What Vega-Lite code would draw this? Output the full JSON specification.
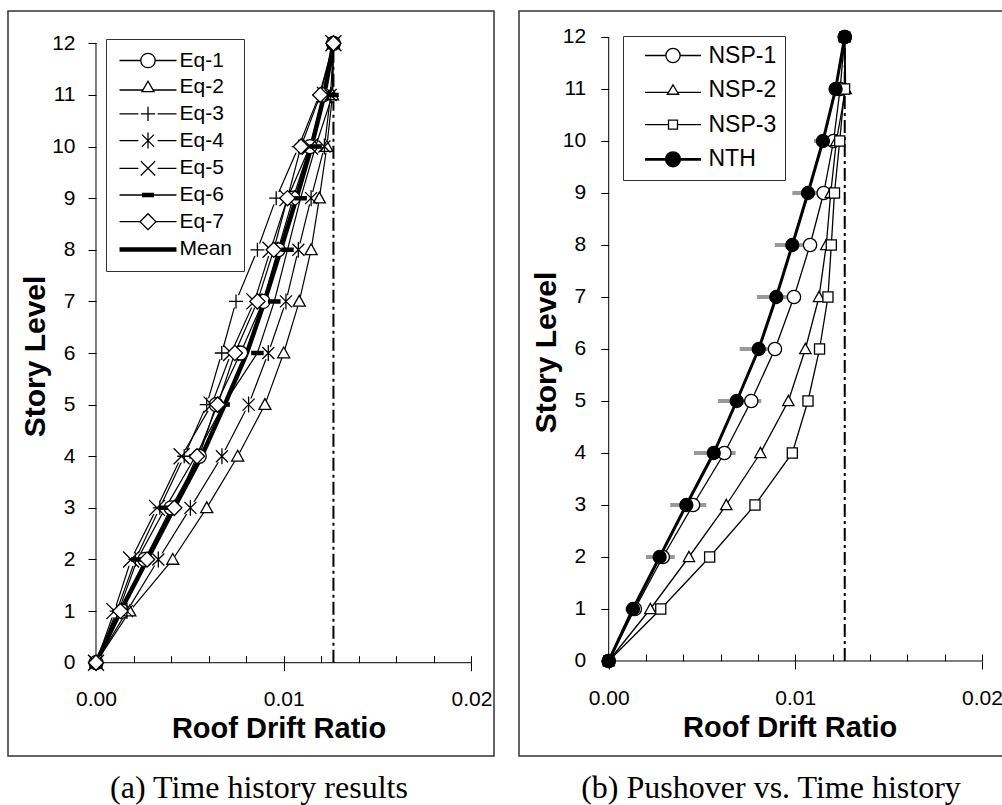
{
  "$schema": "https://vega.github.io/schema/vega-lite/v6.json",
  "background": "white",
  "padding": {"left": 7, "top": 10, "right": 0, "bottom": 0},
  "spacing": 23,
  "config": {
    "view": {"stroke": "#333", "strokeWidth": 1.5},
    "axis": {"domain": false, "grid": false, "labelFont": "Liberation Sans", "labelFontSize": 21, "labelColor": "black", "tickColor": "black", "tickWidth": 1, "titleFont": "Liberation Sans", "titleFontWeight": "bold", "titleColor": "black"},
    "legend": {"labelFont": "Liberation Sans", "labelColor": "black"}
  },
  "resolve": {"scale": {"shape": "independent", "fill": "independent"}},
  "datasets": {
    "frame": [{"x0": 0, "x1": 0.02, "y0": 0, "y1": 12}],
    "roof": [{"drift": 0.01265, "lo": 0, "hi": 12}],
    "eq": [
      {"series": "Eq-1", "level": 0, "drift": 0}, {"series": "Eq-1", "level": 1, "drift": 0.0014}, {"series": "Eq-1", "level": 2, "drift": 0.0026}, {"series": "Eq-1", "level": 3, "drift": 0.004}, {"series": "Eq-1", "level": 4, "drift": 0.0055}, {"series": "Eq-1", "level": 5, "drift": 0.0064}, {"series": "Eq-1", "level": 6, "drift": 0.0077}, {"series": "Eq-1", "level": 7, "drift": 0.0089}, {"series": "Eq-1", "level": 8, "drift": 0.0097}, {"series": "Eq-1", "level": 9, "drift": 0.0105}, {"series": "Eq-1", "level": 10, "drift": 0.0114}, {"series": "Eq-1", "level": 11, "drift": 0.0121}, {"series": "Eq-1", "level": 12, "drift": 0.01265},
      {"series": "Eq-2", "level": 0, "drift": 0}, {"series": "Eq-2", "level": 1, "drift": 0.0018}, {"series": "Eq-2", "level": 2, "drift": 0.00409}, {"series": "Eq-2", "level": 3, "drift": 0.0059}, {"series": "Eq-2", "level": 4, "drift": 0.00755}, {"series": "Eq-2", "level": 5, "drift": 0.009}, {"series": "Eq-2", "level": 6, "drift": 0.01}, {"series": "Eq-2", "level": 7, "drift": 0.01083}, {"series": "Eq-2", "level": 8, "drift": 0.01146}, {"series": "Eq-2", "level": 9, "drift": 0.0119}, {"series": "Eq-2", "level": 10, "drift": 0.0123}, {"series": "Eq-2", "level": 11, "drift": 0.0126}, {"series": "Eq-2", "level": 12, "drift": 0.01265},
      {"series": "Eq-3", "level": 0, "drift": 0}, {"series": "Eq-3", "level": 1, "drift": 0.0011}, {"series": "Eq-3", "level": 2, "drift": 0.0021}, {"series": "Eq-3", "level": 3, "drift": 0.0034}, {"series": "Eq-3", "level": 4, "drift": 0.0047}, {"series": "Eq-3", "level": 5, "drift": 0.0059}, {"series": "Eq-3", "level": 6, "drift": 0.0067}, {"series": "Eq-3", "level": 7, "drift": 0.00746}, {"series": "Eq-3", "level": 8, "drift": 0.0086}, {"series": "Eq-3", "level": 9, "drift": 0.0096}, {"series": "Eq-3", "level": 10, "drift": 0.0108}, {"series": "Eq-3", "level": 11, "drift": 0.0119}, {"series": "Eq-3", "level": 12, "drift": 0.01265},
      {"series": "Eq-4", "level": 0, "drift": 0}, {"series": "Eq-4", "level": 1, "drift": 0.00165}, {"series": "Eq-4", "level": 2, "drift": 0.00332}, {"series": "Eq-4", "level": 3, "drift": 0.00503}, {"series": "Eq-4", "level": 4, "drift": 0.00671}, {"series": "Eq-4", "level": 5, "drift": 0.00813}, {"series": "Eq-4", "level": 6, "drift": 0.00918}, {"series": "Eq-4", "level": 7, "drift": 0.01012}, {"series": "Eq-4", "level": 8, "drift": 0.01078}, {"series": "Eq-4", "level": 9, "drift": 0.01146}, {"series": "Eq-4", "level": 10, "drift": 0.01217}, {"series": "Eq-4", "level": 11, "drift": 0.0125}, {"series": "Eq-4", "level": 12, "drift": 0.01265},
      {"series": "Eq-5", "level": 0, "drift": 0}, {"series": "Eq-5", "level": 1, "drift": 0.00098}, {"series": "Eq-5", "level": 2, "drift": 0.00187}, {"series": "Eq-5", "level": 3, "drift": 0.00325}, {"series": "Eq-5", "level": 4, "drift": 0.00456}, {"series": "Eq-5", "level": 5, "drift": 0.00616}, {"series": "Eq-5", "level": 6, "drift": 0.0072}, {"series": "Eq-5", "level": 7, "drift": 0.00844}, {"series": "Eq-5", "level": 8, "drift": 0.0093}, {"series": "Eq-5", "level": 9, "drift": 0.0102}, {"series": "Eq-5", "level": 10, "drift": 0.0114}, {"series": "Eq-5", "level": 11, "drift": 0.0122}, {"series": "Eq-5", "level": 12, "drift": 0.01265},
      {"series": "Eq-6", "level": 0, "drift": 0}, {"series": "Eq-6", "level": 1, "drift": 0.0012}, {"series": "Eq-6", "level": 2, "drift": 0.0022}, {"series": "Eq-6", "level": 3, "drift": 0.0037}, {"series": "Eq-6", "level": 4, "drift": 0.0053}, {"series": "Eq-6", "level": 5, "drift": 0.0068}, {"series": "Eq-6", "level": 6, "drift": 0.0086}, {"series": "Eq-6", "level": 7, "drift": 0.0095}, {"series": "Eq-6", "level": 8, "drift": 0.0102}, {"series": "Eq-6", "level": 9, "drift": 0.0109}, {"series": "Eq-6", "level": 10, "drift": 0.0117}, {"series": "Eq-6", "level": 11, "drift": 0.0126}, {"series": "Eq-6", "level": 12, "drift": 0.01265},
      {"series": "Eq-7", "level": 0, "drift": 0}, {"series": "Eq-7", "level": 1, "drift": 0.0013}, {"series": "Eq-7", "level": 2, "drift": 0.00272}, {"series": "Eq-7", "level": 3, "drift": 0.00417}, {"series": "Eq-7", "level": 4, "drift": 0.00538}, {"series": "Eq-7", "level": 5, "drift": 0.00648}, {"series": "Eq-7", "level": 6, "drift": 0.0074}, {"series": "Eq-7", "level": 7, "drift": 0.0086}, {"series": "Eq-7", "level": 8, "drift": 0.00947}, {"series": "Eq-7", "level": 9, "drift": 0.0102}, {"series": "Eq-7", "level": 10, "drift": 0.01092}, {"series": "Eq-7", "level": 11, "drift": 0.01195}, {"series": "Eq-7", "level": 12, "drift": 0.01265},
      {"series": "Mean", "level": 0, "drift": 0}, {"series": "Mean", "level": 1, "drift": 0.0013}, {"series": "Mean", "level": 2, "drift": 0.00273}, {"series": "Mean", "level": 3, "drift": 0.00416}, {"series": "Mean", "level": 4, "drift": 0.00563}, {"series": "Mean", "level": 5, "drift": 0.00686}, {"series": "Mean", "level": 6, "drift": 0.00804}, {"series": "Mean", "level": 7, "drift": 0.00898}, {"series": "Mean", "level": 8, "drift": 0.00984}, {"series": "Mean", "level": 9, "drift": 0.01068}, {"series": "Mean", "level": 10, "drift": 0.01148}, {"series": "Mean", "level": 11, "drift": 0.01216}, {"series": "Mean", "level": 12, "drift": 0.01265}
    ],
    "nsp": [
      {"series": "NSP-1", "level": 0, "drift": 0}, {"series": "NSP-1", "level": 1, "drift": 0.0014}, {"series": "NSP-1", "level": 2, "drift": 0.0029}, {"series": "NSP-1", "level": 3, "drift": 0.00452}, {"series": "NSP-1", "level": 4, "drift": 0.0062}, {"series": "NSP-1", "level": 5, "drift": 0.00764}, {"series": "NSP-1", "level": 6, "drift": 0.00891}, {"series": "NSP-1", "level": 7, "drift": 0.00993}, {"series": "NSP-1", "level": 8, "drift": 0.01079}, {"series": "NSP-1", "level": 9, "drift": 0.01152}, {"series": "NSP-1", "level": 10, "drift": 0.01205}, {"series": "NSP-1", "level": 11, "drift": 0.0124}, {"series": "NSP-1", "level": 12, "drift": 0.01265},
      {"series": "NSP-2", "level": 0, "drift": 0}, {"series": "NSP-2", "level": 1, "drift": 0.00223}, {"series": "NSP-2", "level": 2, "drift": 0.0043}, {"series": "NSP-2", "level": 3, "drift": 0.0063}, {"series": "NSP-2", "level": 4, "drift": 0.00813}, {"series": "NSP-2", "level": 5, "drift": 0.00963}, {"series": "NSP-2", "level": 6, "drift": 0.01054}, {"series": "NSP-2", "level": 7, "drift": 0.01127}, {"series": "NSP-2", "level": 8, "drift": 0.01166}, {"series": "NSP-2", "level": 9, "drift": 0.0119}, {"series": "NSP-2", "level": 10, "drift": 0.0122}, {"series": "NSP-2", "level": 11, "drift": 0.0127}, {"series": "NSP-2", "level": 12, "drift": 0.01265},
      {"series": "NSP-3", "level": 0, "drift": 0}, {"series": "NSP-3", "level": 1, "drift": 0.00279}, {"series": "NSP-3", "level": 2, "drift": 0.00541}, {"series": "NSP-3", "level": 3, "drift": 0.00784}, {"series": "NSP-3", "level": 4, "drift": 0.00984}, {"series": "NSP-3", "level": 5, "drift": 0.01068}, {"series": "NSP-3", "level": 6, "drift": 0.0113}, {"series": "NSP-3", "level": 7, "drift": 0.01175}, {"series": "NSP-3", "level": 8, "drift": 0.01193}, {"series": "NSP-3", "level": 9, "drift": 0.0121}, {"series": "NSP-3", "level": 10, "drift": 0.01238}, {"series": "NSP-3", "level": 11, "drift": 0.01264}, {"series": "NSP-3", "level": 12, "drift": 0.01265},
      {"series": "NTH", "level": 0, "drift": 0}, {"series": "NTH", "level": 1, "drift": 0.0013}, {"series": "NTH", "level": 2, "drift": 0.00273}, {"series": "NTH", "level": 3, "drift": 0.00416}, {"series": "NTH", "level": 4, "drift": 0.00563}, {"series": "NTH", "level": 5, "drift": 0.00686}, {"series": "NTH", "level": 6, "drift": 0.00804}, {"series": "NTH", "level": 7, "drift": 0.00898}, {"series": "NTH", "level": 8, "drift": 0.00984}, {"series": "NTH", "level": 9, "drift": 0.01068}, {"series": "NTH", "level": 10, "drift": 0.01148}, {"series": "NTH", "level": 11, "drift": 0.01216}, {"series": "NTH", "level": 12, "drift": 0.01265}
    ],
    "band": [
      {"level": 1, "lo": 0.0009, "hi": 0.0017}, {"level": 2, "lo": 0.002, "hi": 0.00354}, {"level": 3, "lo": 0.0033, "hi": 0.00523}, {"level": 4, "lo": 0.00457, "hi": 0.0068}, {"level": 5, "lo": 0.00586, "hi": 0.00818}, {"level": 6, "lo": 0.00702, "hi": 0.00898}, {"level": 7, "lo": 0.00795, "hi": 0.00988}, {"level": 8, "lo": 0.0089, "hi": 0.0108}, {"level": 9, "lo": 0.00984, "hi": 0.01166}, {"level": 10, "lo": 0.011, "hi": 0.0122}, {"level": 11, "lo": 0.0118, "hi": 0.0125}
    ]
  },
  "hconcat": [
    {
      "width": 486,
      "height": 745,
      "title": {"text": "(a) Time history results", "orient": "bottom", "anchor": "middle", "font": "Liberation Serif", "fontSize": 32, "fontWeight": "normal", "color": "black", "offset": 17, "dx": 8},
      "resolve": {"axis": {"x": "independent"}, "scale": {"shape": "independent", "fill": "independent"}},
      "layer": [
        {
          "data": {"name": "frame"},
          "mark": {"type": "rule", "color": "black", "strokeWidth": 1},
          "encoding": {
            "x": {"field": "x0", "type": "quantitative", "scale": {"domain": [-0.004688, 0.021204], "nice": false, "zero": false},
                  "axis": {"orient": "bottom", "values": [0, 0.01, 0.02], "format": ".2f", "tickSize": 8, "labelPadding": 18, "offset": -93.3, "title": "Roof Drift Ratio", "titleFontSize": 29, "titlePadding": 5, "titleX": 270.5, "labelFlush": false}},
            "x2": {"field": "x1"},
            "y": {"field": "y0", "type": "quantitative", "scale": {"domain": [-1.8075, 12.626], "nice": false, "zero": false},
                  "axis": {"values": [0, 1, 2, 3, 4, 5, 6, 7, 8, 9, 10, 11, 12], "format": "d", "tickSize": 8, "labelPadding": 13, "offset": -88, "title": "Story Level", "titleFontSize": 30, "titlePadding": 1, "titleY": 345}}
          }
        },
        {
          "data": {"name": "frame"},
          "mark": {"type": "rule", "color": "black", "strokeWidth": 1},
          "encoding": {
            "x": {"field": "x0", "type": "quantitative", "axis": {"orient": "bottom", "values": [0.002, 0.004, 0.006, 0.008, 0.01, 0.012, 0.014, 0.016, 0.018, 0.02], "tickSize": -7, "labels": false, "title": null, "offset": -93.3}},
            "y": {"field": "y0", "type": "quantitative"},
            "y2": {"field": "y1"}
          }
        },
        {
          "data": {"name": "roof"},
          "mark": {"type": "rule", "color": "black", "strokeWidth": 2, "strokeDash": [13, 4, 3, 4]},
          "encoding": {
            "x": {"field": "drift", "type": "quantitative", "axis": null},
            "y": {"field": "lo", "type": "quantitative"},
            "y2": {"field": "hi"}
          }
        },
        {
          "data": {"name": "eq"},
          "transform": [{"filter": "datum.series !== 'Mean'"}],
          "mark": {"type": "line", "color": "black", "strokeWidth": 1.2},
          "encoding": {
            "x": {"field": "drift", "type": "quantitative", "axis": null},
            "y": {"field": "level", "type": "quantitative"},
            "detail": {"field": "series", "type": "nominal"},
            "order": {"field": "level", "type": "quantitative"}
          }
        },
        {
          "data": {"name": "eq"},
          "transform": [{"filter": "datum.series === 'Mean'"}],
          "mark": {"type": "line", "color": "black", "strokeWidth": 4.5},
          "encoding": {
            "x": {"field": "drift", "type": "quantitative", "axis": null},
            "y": {"field": "level", "type": "quantitative"},
            "order": {"field": "level", "type": "quantitative"}
          }
        },
        {
          "data": {"name": "eq"},
          "transform": [{"filter": {"field": "series", "oneOf": ["Eq-3", "Eq-4", "Eq-5"]}}],
          "mark": {"type": "point", "shape": "square", "filled": true, "fill": "white", "strokeWidth": 0, "opacity": 1, "size": 150},
          "encoding": {
            "x": {"field": "drift", "type": "quantitative", "axis": null},
            "y": {"field": "level", "type": "quantitative"}
          }
        },
        {
          "data": {"name": "eq"},
          "transform": [{"filter": "datum.series !== 'Mean'"}],
          "mark": {"type": "point", "filled": true, "stroke": "black", "strokeWidth": 1.3, "opacity": 1, "size": 256},
          "encoding": {
            "x": {"field": "drift", "type": "quantitative", "axis": null},
            "y": {"field": "level", "type": "quantitative"},
            "fill": {"field": "series", "type": "nominal", "legend": null,
                     "scale": {"domain": ["Eq-1", "Eq-2", "Eq-3", "Eq-4", "Eq-5", "Eq-6", "Eq-7"], "range": ["white", "white", "white", "white", "white", "black", "white"]}},
            "shape": {"field": "series", "type": "nominal", "legend": null,
                      "scale": {"domain": ["Eq-1", "Eq-2", "Eq-3", "Eq-4", "Eq-5", "Eq-6", "Eq-7"],
                                "range": ["M-0.875,0A0.875,0.875,0,1,0,0.875,0A0.875,0.875,0,1,0,-0.875,0Z", "M0,-0.75L0.75,0.6L-0.75,0.6Z", "M-0.875,0H0.875M0,-0.875V0.875", "M0,-1V1M-0.75,-0.75L0.75,0.75M-0.75,0.75L0.75,-0.75", "M-1,-1L1,1M-1,1L1,-1", "M-0.7,-0.2H0.7V0.2H-0.7Z", "M-0.95,0L0,-0.95L0.95,0L0,0.95Z"]}}
          }
        },
        {
          "data": {"name": "eq"},
          "transform": [{"filter": "datum.level < 0"}],
          "mark": {"type": "point", "filled": false, "color": "black", "strokeWidth": 1.3, "opacity": 1, "size": 256},
          "encoding": {
            "x": {"field": "drift", "type": "quantitative", "axis": null},
            "y": {"field": "level", "type": "quantitative"},
            "shape": {"field": "series", "type": "nominal",
                      "scale": {"domain": ["Eq-1", "Eq-2", "Eq-3", "Eq-4", "Eq-5", "Eq-6", "Eq-7", "Mean"],
                                "range": ["M-3.56,0H-0.9M0.9,0H3.56M-0.9,0A0.9,0.9,0,1,0,0.9,0A0.9,0.9,0,1,0,-0.9,0Z", "M-3.56,0.35H-0.6M0.6,0.35H3.56M0,-0.75L0.75,0.55L-0.75,0.55Z", "M-3.56,0H-1.2M1.2,0H3.56M-0.9,0H0.9M0,-0.9V0.9", "M-3.56,0H-1.2M1.2,0H3.56M0,-1V1M-0.75,-0.75L0.75,0.75M-0.75,0.75L0.75,-0.75", "M-3.56,0H-1.2M1.2,0H3.56M-0.9,-0.9L0.9,0.9M-0.9,0.9L0.9,-0.9", "M-3.56,0H3.56M-0.75,-0.2H0.75M-0.75,-0.1H0.75M-0.75,0.1H0.75M-0.75,0.2H0.75", "M-3.56,0H-1M1,0H3.56M-1,0L0,-1L1,0L0,1Z", "M-3.56,-0.2H3.56M-3.56,-0.1H3.56M-3.56,0H3.56M-3.56,0.1H3.56M-3.56,0.2H3.56"]},
                      "legend": {"title": null, "orient": "none", "legendX": 98, "legendY": 28, "padding": 11, "rowPadding": 4.7, "symbolSize": 256, "symbolOffset": 20.5, "labelOffset": 21, "labelFontSize": 21, "strokeColor": "#333", "fillColor": "white", "symbolStrokeColor": "black", "symbolStrokeWidth": 1.3, "symbolOpacity": 1}}
          }
        }
      ]
    },
    {
      "width": 484,
      "height": 745,
      "title": {"text": "(b) Pushover vs. Time history", "orient": "bottom", "anchor": "middle", "font": "Liberation Serif", "fontSize": 32, "fontWeight": "normal", "color": "black", "offset": 17, "dx": 10},
      "resolve": {"axis": {"x": "independent"}, "scale": {"shape": "independent", "fill": "independent"}},
      "layer": [
        {
          "data": {"name": "frame"},
          "mark": {"type": "rule", "color": "black", "strokeWidth": 1},
          "encoding": {
            "x": {"field": "x0", "type": "quantitative", "scale": {"domain": [-0.004807, 0.021131], "nice": false, "zero": false},
                  "axis": {"orient": "bottom", "values": [0, 0.01, 0.02], "format": ".2f", "tickSize": 8, "labelPadding": 18, "offset": -95, "title": "Roof Drift Ratio", "titleFontSize": 29, "titlePadding": 5, "titleX": 270.7, "labelFlush": false}},
            "x2": {"field": "x1"},
            "y": {"field": "y0", "type": "quantitative", "scale": {"domain": [-1.827, 12.5], "nice": false, "zero": false},
                  "axis": {"values": [0, 1, 2, 3, 4, 5, 6, 7, 8, 9, 10, 11, 12], "format": "d", "tickSize": 8, "labelPadding": 15, "offset": -89.7, "title": "Story Level", "titleFontSize": 30, "titlePadding": 1, "titleY": 341}}
          }
        },
        {
          "data": {"name": "frame"},
          "mark": {"type": "rule", "color": "black", "strokeWidth": 1},
          "encoding": {
            "x": {"field": "x0", "type": "quantitative", "axis": {"orient": "bottom", "values": [0.002, 0.004, 0.006, 0.008, 0.01, 0.012, 0.014, 0.016, 0.018, 0.02], "tickSize": -7, "labels": false, "title": null, "offset": -95}},
            "y": {"field": "y0", "type": "quantitative"},
            "y2": {"field": "y1"}
          }
        },
        {
          "data": {"name": "roof"},
          "mark": {"type": "rule", "color": "black", "strokeWidth": 2, "strokeDash": [13, 4, 3, 4]},
          "encoding": {
            "x": {"field": "drift", "type": "quantitative", "axis": null},
            "y": {"field": "lo", "type": "quantitative"},
            "y2": {"field": "hi"}
          }
        },
        {
          "data": {"name": "band"},
          "mark": {"type": "rule", "color": "#999999", "strokeWidth": 4},
          "encoding": {
            "x": {"field": "lo", "type": "quantitative", "axis": null},
            "x2": {"field": "hi"},
            "y": {"field": "level", "type": "quantitative"}
          }
        },
        {
          "data": {"name": "nsp"},
          "transform": [{"filter": "datum.series !== 'NTH'"}],
          "mark": {"type": "line", "color": "black", "strokeWidth": 1.3},
          "encoding": {
            "x": {"field": "drift", "type": "quantitative", "axis": null},
            "y": {"field": "level", "type": "quantitative"},
            "detail": {"field": "series", "type": "nominal"},
            "order": {"field": "level", "type": "quantitative"}
          }
        },
        {
          "data": {"name": "nsp"},
          "transform": [{"filter": "datum.series === 'NTH'"}],
          "mark": {"type": "line", "color": "black", "strokeWidth": 3},
          "encoding": {
            "x": {"field": "drift", "type": "quantitative", "axis": null},
            "y": {"field": "level", "type": "quantitative"},
            "order": {"field": "level", "type": "quantitative"}
          }
        },
        {
          "data": {"name": "nsp"},
          "mark": {"type": "point", "filled": true, "stroke": "black", "strokeWidth": 1.3, "opacity": 1, "size": 196},
          "encoding": {
            "x": {"field": "drift", "type": "quantitative", "axis": null},
            "y": {"field": "level", "type": "quantitative"},
            "fill": {"field": "series", "type": "nominal", "legend": null,
                     "scale": {"domain": ["NSP-1", "NSP-2", "NSP-3", "NTH"], "range": ["white", "white", "white", "black"]}},
            "shape": {"field": "series", "type": "nominal", "legend": null,
                      "scale": {"domain": ["NSP-1", "NSP-2", "NSP-3", "NTH"],
                                "range": ["M-0.95,0A0.95,0.95,0,1,0,0.95,0A0.95,0.95,0,1,0,-0.95,0Z", "M0,-0.8L0.8,0.65L-0.8,0.65Z", "M-0.72,-0.72H0.72V0.72H-0.72Z", "M-0.93,0A0.93,0.93,0,1,0,0.93,0A0.93,0.93,0,1,0,-0.93,0Z"]}}
          }
        },
        {
          "data": {"name": "nsp"},
          "transform": [{"filter": "datum.level < 0"}],
          "mark": {"type": "point", "filled": false, "color": "black", "strokeWidth": 1.3, "opacity": 1, "size": 225},
          "encoding": {
            "x": {"field": "drift", "type": "quantitative", "axis": null},
            "y": {"field": "level", "type": "quantitative"},
            "shape": {"field": "series", "type": "nominal",
                      "scale": {"domain": ["NSP-1", "NSP-2", "NSP-3", "NTH"],
                                "range": ["M-3.73,0H-0.95M0.95,0H3.73M-0.95,0A0.95,0.95,0,1,0,0.95,0A0.95,0.95,0,1,0,-0.95,0Z", "M-3.73,0.3H-0.6M0.6,0.3H3.73M0,-0.7L0.75,0.55L-0.75,0.55Z", "M-3.73,0H-0.6M0.6,0H3.73M-0.6,-0.6H0.6V0.6H-0.6Z", "M-3.73,-0.1H3.73M-3.73,0H3.73M-3.73,0.1H3.73M-1,0A1,1,0,1,0,1,0A1,1,0,1,0,-1,0M-0.85,0A0.85,0.85,0,1,0,0.85,0A0.85,0.85,0,1,0,-0.85,0M-0.7,0A0.7,0.7,0,1,0,0.7,0A0.7,0.7,0,1,0,-0.7,0M-0.55,0A0.55,0.55,0,1,0,0.55,0A0.55,0.55,0,1,0,-0.55,0M-0.4,0A0.4,0.4,0,1,0,0.4,0A0.4,0.4,0,1,0,-0.4,0M-0.25,0A0.25,0.25,0,1,0,0.25,0A0.25,0.25,0,1,0,-0.25,0M-0.1,0A0.1,0.1,0,1,0,0.1,0A0.1,0.1,0,1,0,-0.1,0"]},
                      "legend": {"title": null, "orient": "none", "legendX": 104, "legendY": 25, "padding": 8, "rowPadding": 10.6, "symbolSize": 225, "symbolOffset": 30.5, "labelOffset": 24, "labelFontSize": 23, "strokeColor": "#333", "fillColor": "white", "symbolStrokeColor": "black", "symbolStrokeWidth": 1.3, "symbolOpacity": 1}}
          }
        }
      ]
    }
  ]
}
